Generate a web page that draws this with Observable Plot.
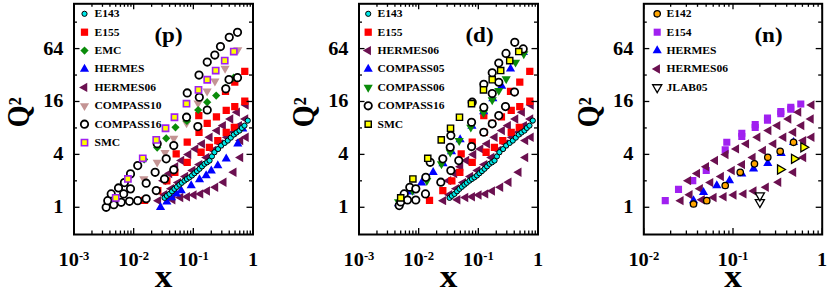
<!DOCTYPE html>
<html><head><meta charset="utf-8">
<script src="https://cdn.jsdelivr.net/npm/d3@7"></script>
<script src="https://cdn.jsdelivr.net/npm/@observablehq/plot@0.6"></script>
<style>
body{margin:0;background:#fff;}
#wrap{position:relative;width:830px;height:295px;overflow:hidden;background:#fff;}
#wrap svg{position:absolute;top:0;}
</style></head><body><div id="wrap"></div>
<script>
// ---------- data: [x, Q^2] ----------
const E143 = [[0.0329,1.28],[0.036,1.35],[0.0398,1.42],[0.044,1.52],[0.0483,1.62],[0.053,1.71],[0.0586,1.81],[0.064,1.9],[0.0711,2.01],[0.078,2.1],[0.0861,2.19],[0.095,2.3],[0.1045,2.44],[0.115,2.58],[0.127,2.74],[0.14,2.92],[0.154,3.12],[0.17,3.25],[0.187,3.4],[0.205,3.8],[0.226,4.23],[0.26,4.6],[0.293,5.04],[0.335,5.4],[0.378,5.74],[0.425,6.2],[0.476,6.72],[0.53,7.1],[0.594,7.46],[0.65,8.0],[0.72,8.5],[0.818,9.7]];
const E155 = [[0.0152,1.2],[0.0254,1.55],[0.036,2.0],[0.049,2.5],[0.079,3.25],[0.135,4.23],[0.186,4.82],[0.257,5.74],[0.356,7.14],[0.486,8.14],[0.0516,4.05],[0.079,5.5],[0.1245,7.14],[0.171,9.0],[0.244,10.7],[0.356,12.7],[0.495,14.0],[0.728,16.1],[0.1235,11.06],[0.346,20.9],[0.495,26.5],[0.728,35.3]];
const EMC = [[0.015,3.5],[0.0248,4.78],[0.0351,6.1],[0.0502,8.14],[0.078,9.6],[0.1206,12.8],[0.1707,15.7],[0.2416,18.7],[0.346,22.9],[0.476,29.9]];
const HERMES_p = [[0.0282,1.0],[0.036,1.15],[0.043,1.29],[0.052,1.42],[0.0626,1.55],[0.092,1.77],[0.127,2.07],[0.164,2.3],[0.2,2.6],[0.257,2.98],[0.356,3.56],[0.556,5.27],[0.674,7.8]];
const HERMES06 = [[0.0316,2.01],[0.0398,2.42],[0.0502,2.9],[0.0633,3.4],[0.083,3.98],[0.109,4.62],[0.141,5.27],[0.189,6.26],[0.251,7.46],[0.316,8.5],[0.42,10.1],[0.543,12.1],[0.763,14.6],
 [0.026,1.19],[0.0328,1.39],[0.0428,1.63],[0.056,1.91],[0.0737,2.24],[0.0975,2.62],[0.127,3.06],[0.167,3.68],[0.218,4.42],[0.285,5.27],[0.369,6.26],[0.476,7.14],[0.587,8.5],[0.748,10.1],
 [0.045,1.22],[0.061,1.29],[0.079,1.32],[0.102,1.38],[0.132,1.42],[0.171,1.53],[0.235,1.69],[0.324,1.93],[0.476,2.5],[0.617,3.68],[0.617,5.74],[0.763,6.26]];
const COMPASS10 = [[0.0046,1.1],[0.0072,1.45],[0.0148,2.1],[0.0248,3.25],[0.0335,4.2],[0.047,6.1],[0.077,9.1],[0.12,15.3],[0.17,21],[0.23,27.3],[0.34,38],[0.556,62]];
const COMPASS16_p = [[0.00346,1.0],[0.00368,1.19],[0.0042,1.42],[0.00465,1.07],[0.00557,1.66],[0.00618,1.14],[0.0068,1.42],[0.007,1.91],[0.00851,1.17],[0.00885,1.62],[0.00885,2.4],[0.0117,1.19],[0.0117,2.98],[0.0162,1.25],[0.0162,1.88],[0.0239,1.55],[0.0229,2.5],[0.0248,5.3],[0.0329,2.1],[0.0351,3.56],[0.047,2.67],[0.047,5.04],[0.077,10.6],[0.079,20],[0.119,8.29],[0.126,17.9],[0.1245,32],[0.171,12.8],[0.171,45],[0.229,54],[0.285,67.5],[0.35,22.3],[0.396,28.4],[0.4,86],[0.55,29.9],[0.55,98]];
const SMC = [[0.005,1.28],[0.008,2.1],[0.0142,3.61],[0.0239,5.85],[0.0342,7.93],[0.0483,10.58],[0.0768,15.1],[0.122,21.7],[0.171,28.3],[0.237,36],[0.336,46.7],[0.476,59.2]];
const COMPASS05 = [[0.0046,1.1],[0.0072,1.5],[0.0112,1.9],[0.0175,2.5],[0.0256,3.15],[0.0355,4.3],[0.0495,5.9],[0.078,8.4],[0.123,12.3],[0.175,17.3],[0.246,24],[0.346,37.6],[0.568,58]];
const COMPASS06 = [[0.0046,1.15],[0.00788,1.55],[0.0137,2.01],[0.0241,3.12],[0.0338,4.23],[0.0478,5.74],[0.0748,8.14],[0.122,11.96],[0.171,16.7],[0.22,21.3],[0.293,28.9],[0.42,44.7],[0.578,55.7]];
const COMPASS16_d = [[0.00472,1.045],[0.005,1.15],[0.00572,1.42],[0.0065,1.21],[0.0071,1.69],[0.00895,1.21],[0.00895,1.62],[0.013,1.42],[0.01317,2.19],[0.0156,3.25],[0.0235,1.93],[0.0254,3.56],[0.0346,2.62],[0.0338,4.82],[0.0346,6.55],[0.047,3.4],[0.077,4.91],[0.077,9.28],[0.079,15.7],[0.1235,7.14],[0.1235,13.7],[0.1235,25.1],[0.171,8.9],[0.171,19.7],[0.171,34],[0.22,11.06],[0.22,26.5],[0.22,43.8],[0.285,14],[0.291,56.4],[0.404,20.5],[0.408,75.5],[0.565,63.5]];
const E142 = [[0.0361,1.09],[0.0508,1.19],[0.0818,1.77],[0.1205,2.5],[0.174,3.12],[0.2455,3.71],[0.338,4.34],[0.477,5.49]];
const E154 = [[0.0174,1.19],[0.0245,1.6],[0.0354,2.01],[0.0501,2.62],[0.0818,4.5],[0.0852,5.49],[0.1255,6.95],[0.1255,6.4],[0.1774,8.73],[0.1774,8.1],[0.2436,10.4],[0.2436,9.8],[0.3435,12.3],[0.3435,11.6],[0.4446,13.7],[0.4446,13.1],[0.5754,15.0]];
const HERMES_n = [[0.0361,1.19],[0.0467,1.48],[0.0658,1.77],[0.0914,2.01],[0.1255,2.4],[0.17,2.74],[0.2455,3.17],[0.347,4.12],[0.477,5.49]];
const JLAB05 = [[0.2,1.14],[0.2,1.36]];
const JLAB04 = [[0.338,2.69],[0.485,3.56],[0.617,4.82]];

// ticks
const yMajor = [1, 4, 16, 64];
const yMinor = [2, 8, 32, 128];
const xMajor3 = [0.001, 0.01, 0.1, 1];
const xLabels3 = ["10^-3", "10^-2", "10^-1", "1"];
const xMajor2 = [0.01, 0.1, 1];
const xLabels2 = ["10^-2", "10^-1", "1"];

// ---------- symbols & styles ----------
const s3 = Math.sqrt(3);
const triDown = {draw(c, size){const y=-Math.sqrt(size/(s3*3)); c.moveTo(0,-2*y); c.lineTo(-s3*y,y); c.lineTo(s3*y,y); c.closePath();}};
const triLeft = {draw(c, size){const y=-Math.sqrt(size/(s3*3)); c.moveTo(2*y,0); c.lineTo(-y,s3*y); c.lineTo(-y,-s3*y); c.closePath();}};
const triRight = {draw(c, size){const y=-Math.sqrt(size/(s3*3)); c.moveTo(-2*y,0); c.lineTo(y,s3*y); c.lineTo(y,-s3*y); c.closePath();}};

const ST = {
  E143: {symbol:"circle", r:2.6, fill:"#00e8e8", stroke:"#000", strokeWidth:1},
  E155: {symbol:"square", r:4.1, fill:"#ff0000"},
  EMC: {symbol:"diamond2", r:3.7, fill:"#0a8c0a"},
  HERMES: {symbol:"triangle", r:3.4, fill:"#0000ff"},
  HERMES06: {symbol:triLeft, r:3.5, fill:"#6b1050"},
  COMPASS10: {symbol:triDown, r:3.4, fill:"#c49494"},
  COMPASS16: {symbol:"circle", r:3.7, fill:"#fff", stroke:"#000", strokeWidth:1.8},
  SMCp: {symbol:"square", r:3.5, fill:"#ffff00", stroke:"#a020f0", strokeWidth:1.6},
  SMCd: {symbol:"square", r:3.5, fill:"#ffff00", stroke:"#000", strokeWidth:1.4},
  COMPASS05: {symbol:"triangle", r:3.4, fill:"#0000ff"},
  COMPASS06: {symbol:triDown, r:3.4, fill:"#0a8c0a"},
  E142: {symbol:"circle", r:3.2, fill:"#ffa500", stroke:"#000", strokeWidth:1.3},
  E154: {symbol:"square", r:4, fill:"#a020f0"},
  JLAB05: {symbol:triDown, r:3.4, fill:"#fff", stroke:"#000", strokeWidth:1.3},
  JLAB04: {symbol:triRight, r:3.4, fill:"#ffff00", stroke:"#000", strokeWidth:1.3}
};

const SX = 1.1;
const FONT = "'Liberation Serif','Times New Roman',serif";

function minorTicks(decades){ const out=[]; for(const d of decades) for(let k=2;k<=9;k++) out.push(+(k*Math.pow(10,d)).toPrecision(3)); return out; }

function makePanel(cfg){
  const {left, width, mL, mR, xDomain, xMajor, xLabels, xMinor, series, legend, legDx, legTx, tag, tagDx} = cfg;
  const height = 295, mT = 3.3, mB = 61;
  const fw = width - mL - mR, fh = height - mT - mB;
  const marks = [];
  for (const s of series) marks.push(Plot.dot(s.data, {x: d=>d[0], y: d=>d[1], ...s.style, clip: true}));
  legend.forEach((s, i) => {
    marks.push(Plot.dot([s.name], {frameAnchor:"top-left", dx: legDx, dy: 10 + 18.4*i, ...s.style}));
    marks.push(Plot.text([s.name], {frameAnchor:"top-left", lineAnchor:"middle", dx: legTx, dy: 10 + 18.4*i, textAnchor:"start", fontSize:10.5, fontWeight:"bold", fill:"#000"}));
  });
  const tk = {stroke:"#000", strokeWidth:1.3};
  marks.push(
    Plot.tickX(xMajor, {x: d=>d, insetTop: fh-6, ...tk}),
    Plot.tickX(xMajor, {x: d=>d, insetBottom: fh-6, ...tk}),
    Plot.tickX(xMinor, {x: d=>d, insetTop: fh-3.5, ...tk}),
    Plot.tickX(xMinor, {x: d=>d, insetBottom: fh-3.5, ...tk}),
    Plot.tickY(yMajor, {y: d=>d, insetRight: fw-6, ...tk}),
    Plot.tickY(yMajor, {y: d=>d, insetLeft: fw-6, ...tk}),
    Plot.tickY(yMinor, {y: d=>d, insetRight: fw-3.5, ...tk}),
    Plot.tickY(yMinor, {y: d=>d, insetLeft: fw-3.5, ...tk}),
    Plot.frame({stroke:"#000", strokeWidth:2}),
    Plot.text(yMajor, {y: d=>d, frameAnchor:"left", lineAnchor:"middle", dx:-10.5, textAnchor:"end", text: d=>String(d), fontSize:18.5, fontWeight:"bold"}),
    Plot.text(xMajor, {x: d=>d, frameAnchor:"bottom", lineAnchor:"middle", dy:26, text: (d,i)=>xLabels[i], fontSize:18.5, fontWeight:"bold"}),
    Plot.text(["x"], {frameAnchor:"bottom", lineAnchor:"middle", dy:42, fontSize:32, fontWeight:"bold"}),
    Plot.text(["Q²"], {frameAnchor:"left", lineAnchor:"middle", dx:-55, dy:8, rotate:-90, fontSize:28, fontWeight:"bold"}),
    Plot.text([tag], {frameAnchor:"top", lineAnchor:"middle", dx: tagDx, dy: 31, fontSize:21, fontWeight:"bold"})
  );
  const svg = Plot.plot({
    width, height, marginLeft: mL, marginRight: mR, marginTop: mT, marginBottom: mB,
    x: {type:"log", domain: xDomain, axis: null},
    y: {type:"log", base: 2, domain: [0.49, 207], axis: null},
    style: {fontFamily: FONT, background: "transparent", overflow: "visible"},
    marks
  });
  d3.select(svg).selectAll("text").each(function(){
    const txt = this.textContent;
    if (txt.includes("^")) {
      const [b, e] = txt.split("^");
      this.textContent = b;
      d3.select(this).append("tspan").attr("dy", "-0.55em").attr("font-size", "0.62em").text(e);
    }
    const t = this.getAttribute("transform") || "";
    this.setAttribute("transform", t + (t.includes("rotate") ? ` scale(1,${SX})` : ` scale(${SX},1)`));
  });
  svg.style.left = left + "px";
  document.getElementById("wrap").appendChild(svg);
}

makePanel({
  left: 0, width: 255, mL: 73.5, mR: 2.5, xDomain: [0.001, 1], xMajor: xMajor3, xLabels: xLabels3, xMinor: minorTicks([-3,-2,-1]),
  series: [
    {data: HERMES06, style: ST.HERMES06}, {data: HERMES_p, style: ST.HERMES}, {data: E155, style: ST.E155},
    {data: COMPASS10, style: ST.COMPASS10}, {data: EMC, style: ST.EMC}, {data: COMPASS16_p, style: ST.COMPASS16},
    {data: SMC, style: ST.SMCp}, {data: E143, style: ST.E143}
  ],
  legend: [
    {name:"E143", style: ST.E143}, {name:"E155", style: ST.E155}, {name:"EMC", style: ST.EMC}, {name:"HERMES", style: ST.HERMES},
    {name:"HERMES06", style: ST.HERMES06}, {name:"COMPASS10", style: ST.COMPASS10}, {name:"COMPASS16", style: ST.COMPASS16}, {name:"SMC", style: ST.SMCp}
  ],
  legDx: 10.5, legTx: 20.5, tag: "(p)", tagDx: 5
});

makePanel({
  left: 280, width: 260, mL: 78.5, mR: 2.5, xDomain: [0.001, 1], xMajor: xMajor3, xLabels: xLabels3, xMinor: minorTicks([-3,-2,-1]),
  series: [
    {data: HERMES06, style: ST.HERMES06}, {data: E155, style: ST.E155}, {data: COMPASS05, style: ST.COMPASS05},
    {data: COMPASS06, style: ST.COMPASS06}, {data: COMPASS16_d, style: ST.COMPASS16}, {data: SMC, style: ST.SMCd},
    {data: E143, style: ST.E143}
  ],
  legend: [
    {name:"E143", style: ST.E143}, {name:"E155", style: ST.E155}, {name:"HERMES06", style: ST.HERMES06}, {name:"COMPASS05", style: ST.COMPASS05},
    {name:"COMPASS06", style: ST.COMPASS06}, {name:"COMPASS16", style: ST.COMPASS16}, {name:"SMC", style: ST.SMCd}
  ],
  legDx: 9.2, legTx: 18.5, tag: "(d)", tagDx: 31
});

makePanel({
  left: 560, width: 265, mL: 83.3, mR: 3.3, xDomain: [0.01, 1], xMajor: xMajor2, xLabels: xLabels2, xMinor: minorTicks([-2,-1]),
  series: [
    {data: E154, style: ST.E154}, {data: HERMES06, style: ST.HERMES06}, {data: HERMES_n, style: ST.HERMES},
    {data: E142, style: ST.E142}, {data: JLAB05, style: ST.JLAB05}, {data: JLAB04, style: ST.JLAB04}
  ],
  legend: [
    {name:"E142", style: ST.E142}, {name:"E154", style: ST.E154}, {name:"HERMES", style: ST.HERMES},
    {name:"HERMES06", style: ST.HERMES06}, {name:"JLAB05", style: ST.JLAB05}
  ],
  legDx: 13.4, legTx: 22.7, tag: "(n)", tagDx: 35.5
});
</script></body></html>
